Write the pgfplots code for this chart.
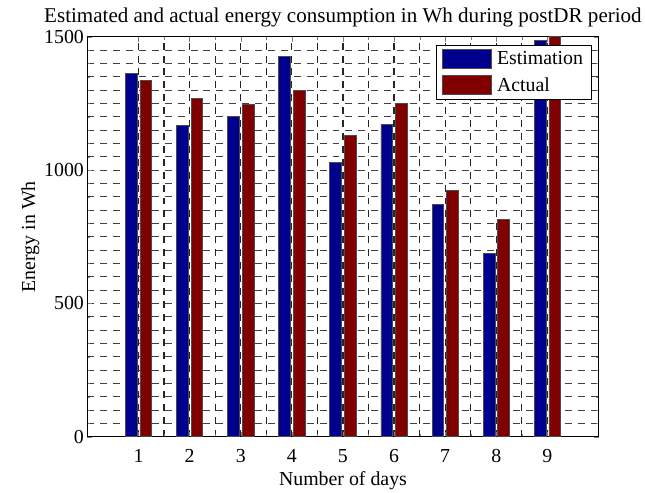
\documentclass[border=0pt]{standalone}
\usepackage{pgfplots}
\pgfplotsset{compat=1.18}
\usepackage{fontspec}
\setmainfont{Liberation Serif}

\definecolor{estblue}{RGB}{0,0,143}
\definecolor{actred}{RGB}{128,0,0}

\begin{document}
\begin{tikzpicture}
  \begin{axis}[
      scale only axis,
      width=515bp, height=403bp,
      xmin=0, xmax=10,
      ymin=0, ymax=1500,
      xtick={1,2,3,4,5,6,7,8,9},
      ytick={0,500,1000,1500},
      minor x tick num=1,
      minor y tick num=9,
      tick align=inside,
      tick pos=both,
      major tick length=5bp,
      minor tick length=3bp,
      grid=both,
      x grid style={dash pattern=on 7bp off 6bp, black!85, line width=1.2bp},
      y grid style={dash pattern=on 7bp off 6bp, black!75, line width=0.9bp},
      axis line style={line width=1.1bp},
      font=\fontsize{20bp}{24bp}\selectfont,
      /pgf/number format/assume math mode=true,
      scaled ticks=false,
      y tick label style={/pgf/number format/.cd, fixed, 1000 sep={}},
      x tick label style={yshift=-9bp},
      title={Estimated and actual energy consumption in Wh during postDR period},
      title style={yshift=0bp, font=\fontsize{21.2bp}{24bp}\selectfont},
      xlabel={Number of days},
      ylabel={Energy in Wh},
      xlabel style={yshift=-2bp},
      ylabel style={yshift=-2bp},
      bar width=0.229,
      legend style={at={(rel axis cs:0.986,0.98)}, anchor=north east,
        draw=black, line width=0.8bp, row sep=7bp, inner xsep=6bp, inner ysep=4bp,
        font=\fontsize{20bp}{22bp}\selectfont},
      legend cell align=left,
      legend image code/.code={
        \draw[#1, line width=0.6bp] (0bp,-9.5bp) rectangle (49bp,9.5bp);
        \path (53bp,0bp);},
    ]
    \addplot[ybar, bar shift=-0.143, fill=estblue, draw=black!70, line width=0.6bp] coordinates {
      (1,1361) (2,1166) (3,1201) (4,1427) (5,1030)
      (6,1171) (7,871) (8,687) (9,1485)
    };
    \addplot[ybar, bar shift=0.143, fill=actred, draw=black!70, line width=0.6bp] coordinates {
      (1,1337) (2,1268) (3,1246) (4,1299) (5,1131)
      (6,1250) (7,925) (8,815) (9,1503)
    };
    \legend{Estimation, Actual}
  \end{axis}
  \path ([xshift=-88bp,yshift=-55bp]current axis.south west)
    rectangle ([xshift=42bp,yshift=37bp]current axis.north east);
\end{tikzpicture}
\end{document}
